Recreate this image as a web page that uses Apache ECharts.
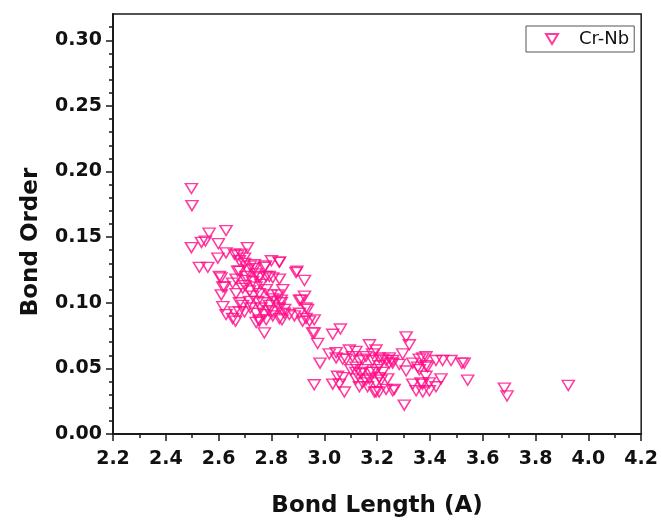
<!DOCTYPE html>
<html>
<head>
<meta charset="utf-8">
<script src="https://cdn.jsdelivr.net/npm/echarts@6/dist/echarts.min.js"></script>
<style>
html,body{margin:0;padding:0;background:#fff;}
#chart{width:661px;height:523px;}
</style>
</head>
<body>
<div id="chart"></div>
<script>
var seriesName = 'Cr-Nb';
var bondLength = [
2.497,2.499,2.497,2.527,2.559,2.535,2.550,2.564,2.599,2.628,2.597,2.628,2.660,2.685,2.709,2.672,2.698,2.777,2.800,2.830,
2.896,2.609,2.672,2.710,2.735,2.666,2.704,2.754,2.792,2.830,2.925,2.603,2.616,2.610,2.653,2.622,2.666,2.616,2.628,2.660,
2.664,2.698,2.679,2.742,2.754,2.773,2.773,2.805,2.830,2.837,2.805,2.868,2.887,2.912,2.931,2.918,2.944,2.956,2.975,2.679,
2.704,2.729,2.754,2.780,2.805,2.691,2.717,2.742,2.754,2.780,2.799,2.824,2.843,2.691,2.717,2.748,2.767,2.792,2.818,2.837,
2.653,2.679,2.742,2.754,2.780,2.805,2.830,2.849,2.906,2.906,2.931,2.962,2.962,2.925,2.937,2.679,2.698,2.735,2.773,2.830,
2.893,2.720,2.740,2.760,2.700,2.730,2.760,2.790,2.720,2.850,2.840,
2.984,3.032,3.061,2.962,3.019,3.045,3.070,3.095,3.107,3.032,3.057,3.076,3.050,3.070,3.120,3.139,3.158,3.183,3.208,3.234,
3.259,3.196,3.164,3.171,3.196,3.221,3.246,3.158,3.145,3.183,3.208,3.045,3.120,3.083,3.133,3.183,3.208,3.234,3.246,3.259,
3.101,3.120,3.145,3.171,3.196,3.221,3.120,3.145,3.171,3.196,3.215,3.240,3.133,3.190,3.208,
3.310,3.322,3.297,3.284,3.303,3.335,3.360,3.385,3.360,3.391,3.335,3.372,3.398,3.423,3.442,3.385,3.423,3.448,3.480,3.521,
3.530,3.543,3.259,3.310,3.354,3.373,3.385,3.366,3.398,3.373,3.348,3.265,
3.682,3.692,3.924
];
var bondOrder = [
0.187,0.174,0.142,0.127,0.127,0.146,0.147,0.153,0.145,0.155,0.134,0.138,0.137,0.137,0.142,0.136,0.134,0.128,0.132,0.131,
0.124,0.119,0.124,0.125,0.126,0.118,0.120,0.120,0.120,0.118,0.117,0.120,0.112,0.106,0.115,0.112,0.107,0.097,0.091,0.093,
0.086,0.093,0.100,0.085,0.087,0.091,0.077,0.093,0.096,0.102,0.103,0.091,0.090,0.102,0.096,0.086,0.086,0.077,0.069,0.124,
0.117,0.116,0.119,0.120,0.119,0.111,0.109,0.112,0.107,0.110,0.106,0.106,0.110,0.098,0.101,0.101,0.100,0.098,0.101,0.100,
0.088,0.093,0.092,0.086,0.087,0.090,0.088,0.092,0.102,0.092,0.088,0.087,0.077,0.105,0.095,0.132,0.130,0.129,0.127,0.131,
0.123,0.128,0.122,0.114,0.113,0.105,0.096,0.094,0.096,0.095,0.087,
0.054,0.076,0.080,0.0375,0.061,0.058,0.057,0.064,0.059,0.038,0.038,0.032,0.044,0.043,0.051,0.046,0.041,0.047,0.043,0.034,
0.033,0.032,0.036,0.068,0.064,0.057,0.054,0.059,0.057,0.056,0.052,0.062,0.063,0.057,0.056,0.061,0.058,0.056,0.058,0.054,
0.049,0.047,0.049,0.047,0.049,0.047,0.042,0.039,0.042,0.039,0.041,0.042,0.036,0.032,0.032,
0.074,0.068,0.061,0.053,0.022,0.054,0.057,0.059,0.049,0.051,0.038,0.038,0.033,0.036,0.042,0.044,0.056,0.056,0.056,0.054,
0.054,0.041,0.056,0.048,0.051,0.058,0.052,0.039,0.039,0.032,0.033,0.034,
0.035,0.029,0.037
];
var xTicks = [2.2,2.4,2.6,2.8,3.0,3.2,3.4,3.6,3.8,4.0,4.2];
var yMajorTicks = [0.00,0.05,0.10,0.15,0.20,0.25,0.30];
var yMinorTicks = [0.01,0.02,0.03,0.04,0.06,0.07,0.08,0.09,0.11,0.12,0.13,0.14,0.16,0.17,0.18,0.19,0.21,0.22,0.23,0.24,0.26,0.27,0.28,0.29,0.31];
var xRange = [2.2, 4.2];
var yRange = [0, 0.32];

var points = bondLength.map(function(v, i){ return [v, bondOrder[i]]; });
var pink = '#ff0a87';
var axisColor = '#1a1a1a';
var font = '"DejaVu Sans", "Liberation Sans", Arial, sans-serif';

var chart = echarts.init(document.getElementById('chart'), null, {renderer:'canvas'});
chart.setOption({
  animation: false,
  backgroundColor: '#fff',
  grid: {left:113, top:14, width:529, height:423, show:true, borderColor:axisColor, borderWidth:1.5, containLabel:false},
  legend: {
    left: 526, top: 26,
    padding: [4, 5, 4, 19],
    borderColor: '#555', borderWidth: 1,
    itemWidth: 12, itemHeight: 10,
    textStyle: {fontFamily: font, fontSize: 18, color: '#111', padding: [0,0,0,16]},
    data: [{name: seriesName, icon: 'path://M0,0 L12,0 L6,10 Z'}]
  },
  xAxis: {
    type: 'value', min: xRange[0], max: xRange[1], interval: 0.2,
    name: 'Bond Length (A)', nameLocation: 'middle', nameGap: 61,
    nameTextStyle: {fontFamily: font, fontSize: 23, fontWeight: 'bold', color: '#111'},
    axisLine: {show: true, onZero: false, lineStyle: {color: axisColor, width: 2}},
    axisTick: {show: true, inside: false, length: 7, lineStyle: {color: axisColor, width: 1.5}},
    minorTick: {show: true, splitNumber: 2, length: 4, lineStyle: {color: axisColor, width: 1.5}},
    axisLabel: {fontFamily: font, fontSize: 19, fontWeight: 'bold', color: '#111', margin: 16,
      formatter: function(v){ return v.toFixed(1); }},
    splitLine: {show: false}
  },
  yAxis: [{
    type: 'value', min: yRange[0], max: yRange[1], position: 'left',
    name: 'Bond Order', nameLocation: 'middle', nameGap: 70,
    nameTextStyle: {fontFamily: font, fontSize: 23, fontWeight: 'bold', color: '#111', padding: [0, 36, 0, 0]},
    axisLine: {show: true, onZero: false, lineStyle: {color: axisColor, width: 2}},
    axisTick: {show: true, inside: false, length: 7, customValues: yMajorTicks, lineStyle: {color: axisColor, width: 1.5}},
    axisLabel: {fontFamily: font, fontSize: 19, fontWeight: 'bold', color: '#111', margin: 11, customValues: yMajorTicks,
      formatter: function(v){ return (+v).toFixed(2); }},
    splitLine: {show: false}
  }, {
    type: 'value', min: yRange[0], max: yRange[1], position: 'left', offset: 0,
    axisLine: {show: false},
    axisTick: {show: true, inside: false, length: 4, customValues: yMinorTicks, lineStyle: {color: axisColor, width: 1.5}},
    axisLabel: {show: false},
    splitLine: {show: false}
  }],
  series: [{
    name: seriesName,
    type: 'scatter',
    yAxisIndex: 0,
    symbol: 'triangle',
    symbolRotate: 180,
    symbolSize: [12, 10],
    itemStyle: {color: 'rgba(255,255,255,0)', borderColor: pink, borderWidth: 1.5},
    data: points
  }]
});
</script>
</body>
</html>
